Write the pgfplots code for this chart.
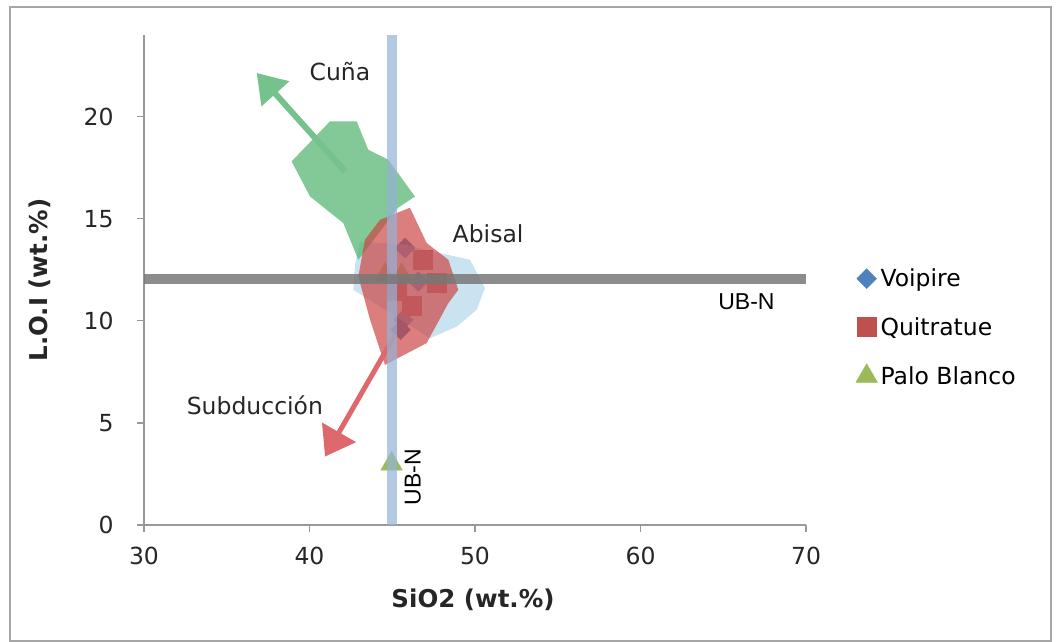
\documentclass[border=0pt]{standalone}
\usepackage{fontspec}
\setmainfont{DejaVu Sans}
\newfontfamily\arialf{Liberation Sans}
\usepackage{pgfplots}
\pgfplotsset{compat=1.18}
\usetikzlibrary{arrows.meta}
\definecolor{voip}{RGB}{79,129,189}
\definecolor{quit}{RGB}{192,80,77}
\definecolor{palo}{RGB}{155,187,89}
\definecolor{polygreen}{RGB}{79,178,107}
\definecolor{polyred}{RGB}{205,65,65}
\definecolor{polyblue}{RGB}{150,200,225}
\definecolor{vband}{RGB}{149,179,215}
\definecolor{hband}{RGB}{120,120,120}
\definecolor{arrgreen}{RGB}{118,194,140}
\definecolor{arrred}{RGB}{222,104,108}
\begin{document}
\begin{tikzpicture}[x=1pt,y=1pt]
\path (0,0) rectangle (1057,642);
\draw[black!35, line width=1.5pt] (10,1) rectangle (1051,635);
\begin{axis}[
  at={(144pt,117pt)}, anchor=south west, scale only axis,
  width=662pt, height=490pt,
  xmin=30, xmax=70, ymin=0, ymax=24,
  clip marker paths=true,
  axis x line=bottom, axis y line=left,
  axis line style={-, draw=black!40, line width=1.3pt},
  xtick={30,40,50,60,70}, ytick={0,5,10,15,20},
  tick align=outside, major tick length=7pt,
  tick style={draw=black!40, line width=1.3pt},
  ticklabel style={font=\fontsize{23.5}{28}\selectfont, text=black!85},
  xticklabel style={yshift=-12pt},
  yticklabel style={xshift=-20pt},
  /pgf/number format/assume math mode=true,
  xlabel={SiO2 (wt.\%)}, ylabel={L.O.I (wt.\%)},
  label style={font=\bfseries\fontsize{24.5}{30}\selectfont, text=black!85},
  xlabel style={at={(axis description cs:0.497,-0.153)}, anchor=center},
  ylabel style={at={(axis description cs:-0.157,0.5)}, anchor=center},
  legend style={at={(axis description cs:1.075,0.527)}, anchor=north west, draw=none, fill=none,
    font=\fontsize{23.5}{28}\selectfont, row sep=25pt, inner sep=0pt,
    /tikz/every odd column/.append style={column sep=1pt}},
  legend cell align=left,
]
% data points (drawn first, shaded by the fields above them)
\addplot[only marks, mark=square*, mark size=7pt, mark options={rotate=45, fill=voip, draw=voip}]
  coordinates {(45.77,13.56) (46.57,11.93) (45.67,10.05) (45.50,9.56)};
\addlegendentry{Voipire}
\addplot[only marks, mark=square*, mark size=9.5pt, mark options={fill=quit, draw=quit}]
  coordinates {(46.84,12.99) (47.69,11.88) (45.27,11.47) (46.17,10.74)};
\addlegendentry{Quitratue}
\addplot[only marks, mark=triangle*, mark size=12.5pt, mark options={fill=palo, draw=palo}]
  coordinates {(44.96,2.99) (44.56,12.23) (45.57,12.23)};
\addlegendentry{Palo Blanco}
% Abisal field
\addplot[forget plot, draw=none, fill=polyblue, fill opacity=0.5]
  coordinates {(43.05,13.89) (45.77,13.73) (47.89,13.32) (49.70,12.99) (50.60,11.60)
  (50.10,10.54) (48.90,9.72) (47.28,9.15) (42.65,11.52) (42.75,12.75)} -- cycle;
% Cuña field
\addplot[forget plot, draw=none, fill=polygreen, fill opacity=0.7]
  coordinates {(41.24,19.77) (42.85,19.77) (43.55,18.38) (44.76,17.89) (46.37,16.09)
  (45.35,15.54) (42.95,12.99) (42.04,14.79) (40.03,16.09) (38.92,17.81)} -- cycle;
\draw[draw=arrgreen, line width=6pt, -{Triangle[width=36pt,length=28pt]}]
  (axis cs:42.15,17.32) -- (axis cs:36.81,22.14);
% Subducción field
\addplot[forget plot, draw=none, fill=polyred, fill opacity=0.68]
  coordinates {(46.07,15.54) (47.08,13.81) (48.39,12.99) (48.99,11.52) (48.39,10.87)
  (47.08,8.91) (44.56,7.84) (43.66,10.05) (42.95,12.17) (43.35,13.97) (44.26,14.95)} -- cycle;
\draw[draw=arrred, line width=5pt, -{Triangle[width=38pt,length=28pt]}]
  (axis cs:45.17,9.31) -- (axis cs:40.94,3.35);
% UB-N lines
\addplot[forget plot, draw=vband, line width=10pt, opacity=0.72] coordinates {(45.0,0) (45.0,24)};
\addplot[forget plot, draw=hband, line width=10pt, opacity=0.85] coordinates {(30,12.06) (70,12.06)};
% labels
\node[font=\fontsize{23.5}{28}\selectfont, text=black!85] at (axis cs:41.84,22.2) {Cuña};
\node[font=\fontsize{23.5}{28}\selectfont, text=black!85] at (axis cs:50.79,14.26) {Abisal};
\node[font=\fontsize{23.5}{28}\selectfont, text=black!85] at (axis cs:36.7,5.88) {Subducción};
\node[font=\arialf\fontsize{23}{28}\selectfont] at (axis cs:66.4,10.93) {UB-N};
\node[font=\arialf\fontsize{23}{28}\selectfont, rotate=90] at (axis cs:46.25,2.35) {UB-N};
\end{axis}
\end{tikzpicture}
\end{document}
